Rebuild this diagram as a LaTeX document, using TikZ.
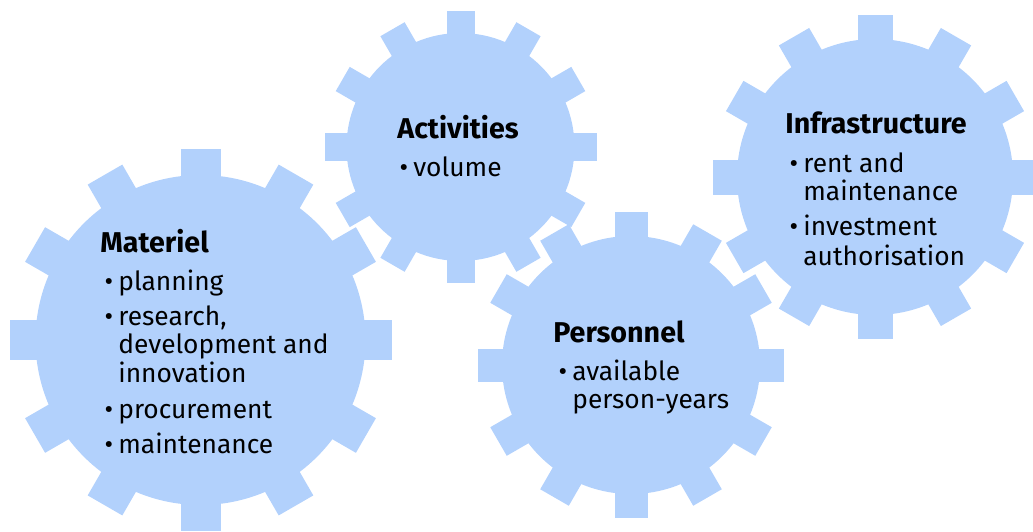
\documentclass[tikz,border=0pt]{standalone}
\usepackage{fontspec}
\setmainfont{Fira Sans}
\definecolor{gearblue}{RGB}{178,209,252}
\tikzset{
  gearfill/.style={fill=gearblue},
  head/.style={anchor=base west, inner sep=0pt, font=\fontsize{16.3}{18}\selectfont\bfseries},
  txt/.style={anchor=base west, inner sep=0pt, font=\fontsize{15}{17}\selectfont}
}
\newcommand{\bul}{\llap{\textbullet\hspace{3pt}}}

\begin{document}
\begin{tikzpicture}[x=0.02cm, y=-0.02cm]
\useasboundingbox (0,0) rectangle (1033,531);
% gears: centre x / centre y / tip radius / body radius / half tooth width
\foreach \cx/\cy/\R/\r/\w in {200.5/340/191/165/20, 460.5/147/136/114/14, 875/177/162/138/17.5, 631/365/153/129/16.5}
{
  \fill[gearfill] (\cx,\cy) circle (\r);
  \foreach \a in {0,30,...,330}
    \fill[gearfill, shift={(\cx,\cy)}, rotate=\a] (\r-6,-\w) rectangle (\R,\w);
}
% Materiel
\node[head] (1) at (100,252) {Materiel};
\node[txt] (2) at (118,290) {\bul planning};
\node[txt] (3) at (118,325) {\bul research,};
\node[txt] (4) at (118,353) {development and};
\node[txt] (5) at (118,382) {innovation};
\node[txt] (6) at (118,418) {\bul procurement};
\node[txt] (7) at (118,453) {\bul maintenance};
% Activities
\node[head] (8) at (397,138) {Activities};
\node[txt] (9) at (413,176) {\bul volume};
% Infrastructure
\node[head] (10) at (785,133) {Infrastructure};
\node[txt] (11) at (803,172) {\bul rent and};
\node[txt] (12) at (803,200) {maintenance};
\node[txt] (13) at (803,235) {\bul investment};
\node[txt] (14) at (803,265) {authorisation};
% Personnel
\node[head] (15) at (553,342) {Personnel};
\node[txt] (16) at (572,380) {\bul available};
\node[txt] (17) at (572,408) {person-years};
\end{tikzpicture}
\end{document}
